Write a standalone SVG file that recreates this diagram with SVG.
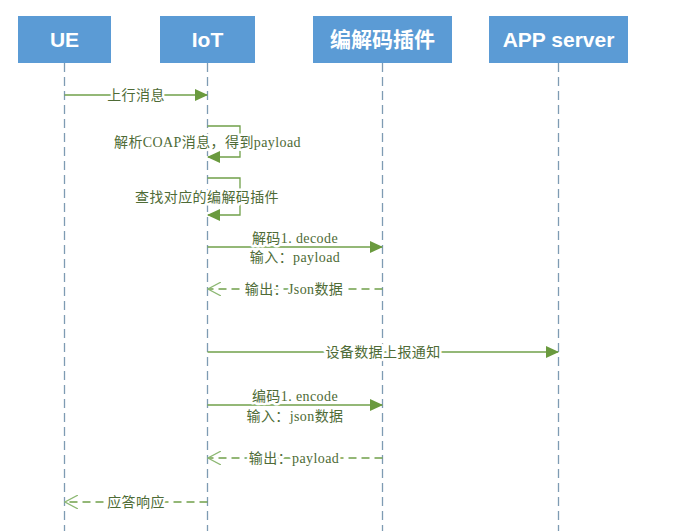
<svg xmlns="http://www.w3.org/2000/svg" width="676" height="531" viewBox="0 0 676 531">
<style>
.box{fill:#5b9bd5}
.hd{fill:#fff;font-family:"Liberation Sans","Noto Sans CJK SC",sans-serif;font-weight:bold;font-size:21px;text-anchor:middle;dominant-baseline:central}
.life{stroke:#7e9bb3;stroke-width:1.3;stroke-dasharray:9 5;fill:none}
.msg{stroke:#70a04a;stroke-width:1.3;fill:none}
.ret{stroke:#70a04a;stroke-width:1.3;fill:none;stroke-dasharray:8 5}
.lbl{fill:#4e6b36;font-family:"Liberation Serif","Noto Sans CJK SC",serif;font-size:14px;letter-spacing:0.4px;text-anchor:middle;dominant-baseline:central;stroke:#fff;stroke-width:5;paint-order:stroke;stroke-linejoin:round}
</style>
<defs>
<marker id="solid" markerWidth="13" markerHeight="12" refX="12" refY="6" orient="auto" markerUnits="userSpaceOnUse">
<path d="M0,0 L13,6 L0,12 Z" fill="#6a9a3e"/>
</marker>
<marker id="open" markerWidth="14" markerHeight="14" refX="13" refY="7" orient="auto" markerUnits="userSpaceOnUse">
<path d="M0,0 L13,7 L0,14" fill="none" stroke="#8db873" stroke-width="1.2"/>
</marker>
</defs>
<rect width="676" height="531" fill="#fff"/>
<g id="lifelines">
<line class="life" x1="64.5" y1="63" x2="64.5" y2="531"/>
<line class="life" x1="207.5" y1="63" x2="207.5" y2="531"/>
<line class="life" x1="382.5" y1="63" x2="382.5" y2="531"/>
<line class="life" x1="558.5" y1="63" x2="558.5" y2="531"/>
</g>
<g id="ue"><rect class="box" x="18" y="16" width="93" height="47"/><text class="hd" x="64.5" y="39.5">UE</text></g>
<g id="iot"><rect class="box" x="160" y="16" width="95" height="47"/><text class="hd" x="207.5" y="39.5">IoT</text></g>
<g id="codec"><rect class="box" x="313" y="16" width="139" height="47"/><text class="hd" x="382.5" y="39.5">编解码插件</text></g>
<g id="app"><rect class="box" x="489" y="16" width="139" height="47"/><text class="hd" x="558.5" y="39.5">APP server</text></g>
<g id="connectors">
<line class="msg" x1="64.5" y1="95" x2="207" y2="95" marker-end="url(#solid)"/>
<text class="lbl" x="136" y="95">上行消息</text>
<path class="msg" d="M207.5,126 H240 V157 H208" marker-end="url(#solid)"/>
<text class="lbl" x="207.5" y="142">解析COAP消息，得到payload</text>
<path class="msg" d="M207.5,178 H240 V215 H208" marker-end="url(#solid)"/>
<text class="lbl" x="207" y="197">查找对应的编解码插件</text>
<line class="msg" x1="207.5" y1="247" x2="382" y2="247" marker-end="url(#solid)"/>
<text class="lbl" x="295" y="238">解码1. decode</text>
<text class="lbl" x="295" y="257">输入：payload</text>
<line class="ret" x1="382.5" y1="289" x2="208" y2="289" marker-end="url(#open)"/>
<text class="lbl" x="294" y="289">输出：Json数据</text>
<line class="msg" x1="207.5" y1="352" x2="558" y2="352" marker-end="url(#solid)"/>
<text class="lbl" x="383" y="352">设备数据上报通知</text>
<line class="msg" x1="207.5" y1="405" x2="382" y2="405" marker-end="url(#solid)"/>
<text class="lbl" x="295" y="396">编码1. encode</text>
<text class="lbl" x="295" y="416">输入：json数据</text>
<line class="ret" x1="382.5" y1="458" x2="208" y2="458" marker-end="url(#open)"/>
<text class="lbl" x="294" y="458">输出：payload</text>
<line class="ret" x1="207.5" y1="502" x2="65" y2="502" marker-end="url(#open)"/>
<text class="lbl" x="136" y="502">应答响应</text>
</g>
</svg>
